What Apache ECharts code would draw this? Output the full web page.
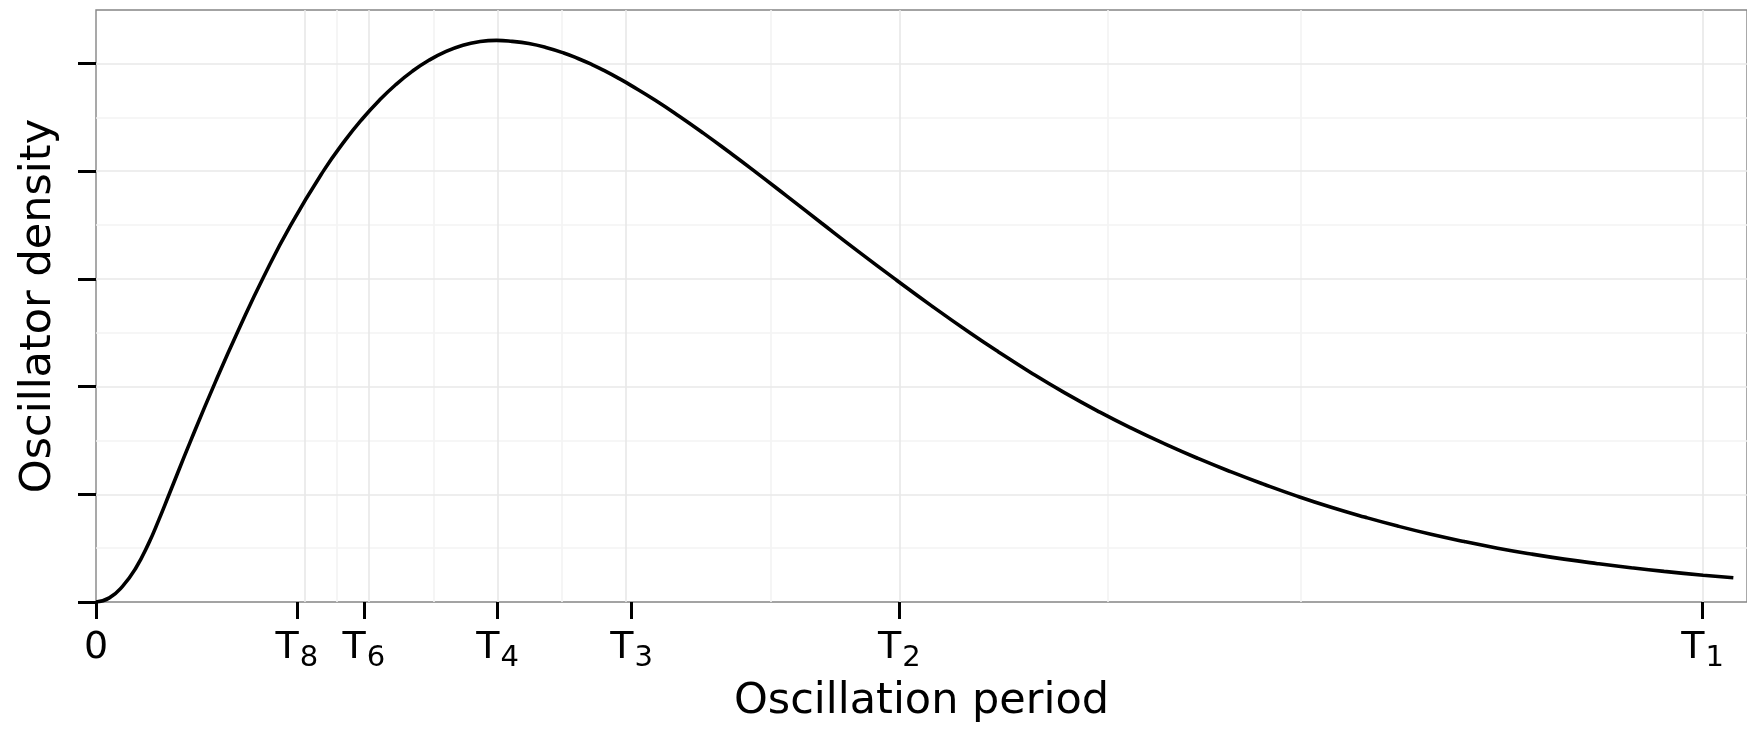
<!DOCTYPE html>
<html>
<head>
<meta charset="utf-8">
<script src="https://cdn.jsdelivr.net/npm/echarts@6/dist/echarts.min.js"></script>
<style>html,body{margin:0;padding:0;background:#fff}#c{width:1747px;height:731px}</style>
</head>
<body>
<div id="c"></div>
<script>
// Oscillation period, in units of T1
const periodX = [0, 0.0083, 0.0165, 0.0249, 0.0327, 0.0391, 0.0456, 0.0591, 0.0746, 0.0891,
  0.1046, 0.1212, 0.1419, 0.1550, 0.1657, 0.1761, 0.1865, 0.1968, 0.2072, 0.2176,
  0.2279, 0.2383, 0.2493, 0.2590, 0.2694, 0.2800, 0.2911, 0.3000, 0.3087, 0.3170,
  0.3250, 0.3332, 0.3481, 0.3630, 0.3780, 0.3930, 0.4082, 0.4300, 0.4517, 0.4750,
  0.4983, 0.5201, 0.5439, 0.5615, 0.5822, 0.6030, 0.6248, 0.6444, 0.6652, 0.6859,
  0.7066, 0.7273, 0.7480, 0.7688, 0.7895, 0.8102, 0.8309, 0.8517, 0.8724, 0.8931,
  0.9138, 0.9346, 0.9553, 0.9760, 1.0003, 1.0191];
// Oscillator density (arbitrary units, one unit per y tick)
const density = [0, 0.038, 0.145, 0.318, 0.542, 0.763, 1.003, 1.503, 2.053, 2.539,
  3.027, 3.500, 4.010, 4.286, 4.485, 4.655, 4.803, 4.927, 5.030, 5.110,
  5.167, 5.202, 5.215, 5.206, 5.185, 5.149, 5.098, 5.047, 4.990, 4.929,
  4.865, 4.795, 4.659, 4.511, 4.354, 4.190, 4.020, 3.769, 3.517, 3.249,
  2.988, 2.750, 2.500, 2.324, 2.127, 1.942, 1.763, 1.614, 1.468, 1.333,
  1.208, 1.091, 0.981, 0.880, 0.789, 0.705, 0.629, 0.561, 0.500, 0.446,
  0.398, 0.356, 0.318, 0.284, 0.249, 0.225];

const xTickValues = [0, 1/8, 1/6, 1/4, 1/3, 1/2, 1];
const xTickMain = ['0', 'T', 'T', 'T', 'T', 'T', 'T'];
const xTickSub = ['', '8', '6', '4', '3', '2', '1'];
const xMinorGrid = [(1/8 + 1/6) / 2, (1/6 + 1/4) / 2, (1/4 + 1/3) / 2, (1/3 + 1/2) / 2, 0.625, 0.75];
const yTickValues = [0, 1, 2, 3, 4, 5];
const yMinorGrid = [0.5, 1.5, 2.5, 3.5, 4.5];

const FONT = 'DejaVu Sans';
const minorStyle = { color: '#f3f3f3', width: 1.6, type: 'solid' };
const majorStyle = { color: '#e8e8e8', width: 1.6, type: 'solid' };

const gridLines = []
  .concat(xMinorGrid.map(v => ({ xAxis: v, lineStyle: minorStyle })))
  .concat(yMinorGrid.map(v => ({ yAxis: v, lineStyle: minorStyle })))
  .concat(xTickValues.filter(v => v > 0).map(v => ({ xAxis: v, lineStyle: majorStyle })))
  .concat(yTickValues.filter(v => v > 0).map(v => ({ yAxis: v, lineStyle: majorStyle })));

const chart = echarts.init(document.getElementById('c'), null, { renderer: 'canvas' });
chart.setOption({
  animation: false,
  backgroundColor: '#ffffff',
  grid: { left: 96, right: -2, top: 10, bottom: 129, show: true, borderColor: '#858585', borderWidth: 1.4, backgroundColor: 'transparent' },
  xAxis: {
    type: 'value', min: 0, max: 1.0276,
    name: 'Oscillation period', nameLocation: 'middle', nameGap: 78,
    nameTextStyle: { fontFamily: FONT, fontSize: 43, color: '#000' },
    axisLine: { show: false },
    splitLine: { show: false },
    axisTick: { show: true, customValues: xTickValues, length: 17, lineStyle: { color: '#000', width: 3 } },
    axisLabel: {
      show: true, customValues: xTickValues, margin: 20, color: '#000',
      formatter: function (v) {
        const i = xTickValues.findIndex(t => Math.abs(t - v) < 1e-6);
        if (i < 0) return '';
        return xTickSub[i] ? '{t|' + xTickMain[i] + '}{s|' + xTickSub[i] + '}' : '{t|' + xTickMain[i] + '}';
      },
      rich: {
        t: { fontFamily: FONT, fontSize: 38, lineHeight: 52, color: '#000' },
        s: { fontFamily: FONT, fontSize: 29, lineHeight: 52, color: '#000', padding: [20, 0, 0, 1] }
      }
    }
  },
  yAxis: {
    type: 'value', min: 0, max: 5.497,
    name: 'Oscillator density', nameLocation: 'middle', nameGap: 36,
    nameTextStyle: { fontFamily: FONT, fontSize: 43, color: '#000' },
    axisLine: { show: false },
    splitLine: { show: false },
    axisTick: { show: true, customValues: yTickValues, length: 18, lineStyle: { color: '#000', width: 3 } },
    axisLabel: { show: false, customValues: yTickValues }
  },
  series: [
    {
      name: 'grid', type: 'line', data: [], z: 1, silent: true,
      markLine: { silent: true, symbol: ['none', 'none'], label: { show: false }, animation: false, data: gridLines }
    },
    {
      name: 'density', type: 'line', z: 5, smooth: 0.5, showSymbol: false, symbol: 'none',
      lineStyle: { color: '#000', width: 3.6 },
      data: periodX.map((x, i) => [x, density[i]])
    }
  ]
});
</script>
</body>
</html>
